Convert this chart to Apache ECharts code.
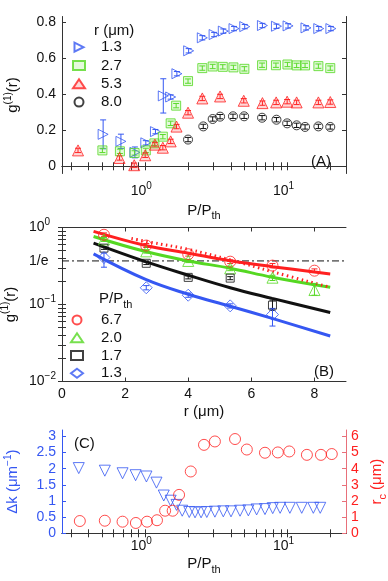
<!DOCTYPE html>
<html>
<head>
<meta charset="utf-8">
<script src="https://cdn.jsdelivr.net/npm/echarts@6/dist/echarts.min.js"></script>
<style>html,body{margin:0;padding:0;background:#fff}#chart{width:388px;height:581px}</style>
</head>
<body>
<div id="chart"></div>
<script>
// ---- panel (A): g1(r) against P/Pth, one series per distance r ----
const aX13 = [0.506, 0.675, 0.846, 1.01, 1.18, 1.34, 1.51, 1.67, 2.02, 2.52, 3.05, 3.54, 4.21, 5.01, 6.67, 8.37, 10.1, 13.5, 16.6, 20.2];
const aY13 = [0.177, 0.138, 0.077, 0.13, 0.192, 0.39, 0.384, 0.513, 0.64, 0.712, 0.73, 0.749, 0.763, 0.774, 0.78, 0.776, 0.778, 0.767, 0.763, 0.763];
const aE13 = [0.08, 0.04, 0.03, 0.012, 0.012, 0.095, 0.012, 0.012, 0.012, 0.012, 0.012, 0.012, 0.012, 0.012, 0.012, 0.012, 0.012, 0.012, 0.012, 0.012];
const aX27 = [0.50, 0.664, 0.842, 1.01, 1.16, 1.33, 1.51, 1.65, 2.0, 2.52, 2.98, 3.51, 4.17, 4.98, 6.63, 8.3, 10.0, 11.6, 13.3, 16.5, 20];
const aY27 = [0.088, 0.083, 0.074, 0.088, 0.127, 0.164, 0.238, 0.336, 0.472, 0.544, 0.553, 0.551, 0.548, 0.54, 0.56, 0.56, 0.564, 0.559, 0.559, 0.555, 0.544];
const aX53 = [0.337, 0.66, 0.837, 1.0, 1.17, 1.33, 1.51, 1.66, 2.0, 2.52, 3.36, 4.93, 6.67, 8.33, 9.95, 11.6, 16.5, 20];
const aY53 = [0.088, 0.046, 0.006, 0.061, 0.12, 0.103, 0.138, 0.22, 0.297, 0.376, 0.387, 0.363, 0.35, 0.354, 0.358, 0.354, 0.354, 0.356];
const aX80 = [2.0, 2.56, 2.98, 3.36, 4.14, 4.96, 6.63, 8.37, 9.95, 11.6, 13.3, 16.5, 20];
const aY80 = [0.148, 0.221, 0.262, 0.275, 0.277, 0.277, 0.269, 0.258, 0.238, 0.227, 0.218, 0.221, 0.218];
const aSmallErr = 0.012;

// ---- panel (B): g1(r) against r, one series per P/Pth ----
const bR = [1.33, 2.67, 4.0, 5.33, 6.67, 8.0];
const bY67 = [0.805, 0.583, 0.45, 0.36, 0.32, 0.275];
const bLo67 = [0.76, 0.55, 0.425, 0.34, 0.30, 0.26];
const bHi67 = [0.85, 0.62, 0.475, 0.38, 0.34, 0.29];
const bY20 = [0.70, 0.49, 0.368, 0.295, 0.223, 0.154];
const bLo20 = [0.66, 0.465, 0.35, 0.275, 0.205, 0.132];
const bHi20 = [0.74, 0.515, 0.385, 0.315, 0.24, 0.188];
const bR17 = [1.33, 2.67, 4.0, 5.33, 6.67];
const bY17 = [0.54, 0.343, 0.225, 0.22, 0.098];
const bLo17 = [0.52, 0.33, 0.215, 0.21, 0.084];
const bHi17 = [0.56, 0.355, 0.235, 0.23, 0.114];
const bR13 = [1.33, 2.67, 4.0, 5.33, 6.67];
const bY13 = [0.407, 0.165, 0.132, 0.096, 0.074];
const bLo13 = [0.305, 0.155, 0.124, 0.09, 0.0525];
const bHi13 = [0.465, 0.176, 0.141, 0.102, 0.089];
// fitted curves
const fitR = [1.0, 2.65, 4.0, 5.33, 6.66, 8.5];
const fit67 = [0.89, 0.583, 0.464, 0.37, 0.31, 0.249];
const fit20 = [0.765, 0.487, 0.368, 0.296, 0.226, 0.167];
const fit17 = [0.627, 0.36, 0.24, 0.165, 0.12, 0.0786];
const fit13 = [0.455, 0.212, 0.136, 0.095, 0.066, 0.039];
const dotR = [2.2, 2.78, 4.0, 5.33, 6.66, 8.5];
const dot67 = [0.72, 0.646, 0.52, 0.38, 0.267, 0.167];
const oneOverE = [[0, 0.368], [9, 0.368]];

// ---- panel (C): dk and rc against P/Pth ----
const cXdk = [0.341, 0.52, 0.693, 0.856, 1.02, 1.20, 1.35, 1.51, 1.66, 1.82, 2.04, 2.24, 2.47, 2.71, 3.09, 3.54, 4.01, 4.64, 5.31, 6.07, 6.95, 7.88, 8.88, 10.4, 12.6, 15.2, 17.0];
const cDk = [2.02, 1.94, 1.86, 1.80, 1.76, 1.57, 1.17, 1.01, 0.88, 0.70, 0.66, 0.65, 0.65, 0.66, 0.67, 0.68, 0.68, 0.70, 0.71, 0.74, 0.75, 0.78, 0.79, 0.79, 0.79, 0.79, 0.79];
const cXrc = [0.347, 0.52, 0.693, 0.86, 1.03, 1.21, 1.38, 1.56, 1.73, 2.09, 2.59, 3.09, 4.28, 5.18, 6.95, 8.56, 10.3, 13.7, 17.2, 20.5];
const cRc = [0.76, 0.78, 0.72, 0.64, 0.72, 0.81, 1.40, 1.40, 2.38, 3.83, 5.48, 5.69, 5.84, 5.19, 4.99, 5.01, 5.07, 4.86, 4.86, 4.91];

// tick positions
const logTicks = [0.3, 0.4, 0.5, 0.6, 0.7, 0.8, 0.9, 1, 2, 3, 4, 5, 6, 7, 8, 9, 10, 20];
const logLabels = [1, 10];
const aYTicks = [0, 0.2, 0.4, 0.6, 0.8];
const bXTicks = [0, 2, 4, 6, 8];
const bYTicks = [0.01, 0.02, 0.03, 0.04, 0.05, 0.06, 0.07, 0.08, 0.09, 0.1, 0.2, 0.3, 0.4, 0.5, 0.6, 0.7, 0.8, 0.9, 1];
const bYLabels = [0.01, 0.1, 0.368, 1];
const cLeftTicks = [0, 0.5, 1, 1.5, 2, 2.5, 3];
const cRightTicks = [0, 1, 2, 3, 4, 5, 6];

const FONT = 'Liberation Sans';
const BLUE = '#3557f2';
const GREEN = '#55d822';
const RED = '#ff2020';
const BLACK = '#111';
const FRAME = '#333';
const triRight = 'path://M0,0L10,5L0,10Z';
const triDown = 'path://M0,0L10,0L5,10Z';

const zip = (xs, ys) => xs.map((x, i) => [x, ys[i]]);
const sup = { fontSize: 10, verticalAlign: 'top', lineHeight: 20, fontFamily: FONT };
const sub = { fontSize: 11, verticalAlign: 'bottom', lineHeight: 22, fontFamily: FONT };

function powLabel(v) {
    const p = Math.round(Math.log10(v));
    return '10{sup|' + (p < 0 ? '\u2212' + (-p) : p) + '}';
}

function errSeries(points, color, xi, yi) {
    return {
        type: 'custom', xAxisIndex: xi, yAxisIndex: yi, data: points, silent: true, z: 3,
        encode: { x: 0, y: [1, 2] },
        renderItem: function (params, api) {
            const lo = api.coord([api.value(0), api.value(1)]);
            const hi = api.coord([api.value(0), api.value(2)]);
            const w = 3;
            const st = { stroke: color, lineWidth: 1 };
            return {
                type: 'group', children: [
                    { type: 'line', shape: { x1: lo[0], y1: lo[1], x2: hi[0], y2: hi[1] }, style: st },
                    { type: 'line', shape: { x1: lo[0] - w, y1: lo[1], x2: lo[0] + w, y2: lo[1] }, style: st },
                    { type: 'line', shape: { x1: hi[0] - w, y1: hi[1], x2: hi[0] + w, y2: hi[1] }, style: st }
                ]
            };
        }
    };
}
const symErr = (xs, ys, es) => xs.map((x, i) => [x, ys[i] - es[i], ys[i] + es[i]]);
const constErr = (xs, ys, e) => xs.map((x, i) => [x, ys[i] - e, ys[i] + e]);
const rangeErr = (xs, lo, hi) => xs.map((x, i) => [x, lo[i], hi[i]]);

function scatter(name, xs, ys, symbol, size, color, fill, xi, yi) {
    return {
        name: name, type: 'scatter', xAxisIndex: xi, yAxisIndex: yi,
        data: zip(xs, ys), symbol: symbol, symbolSize: size, z: 4,
        itemStyle: { color: fill, borderColor: color, borderWidth: 1 }
    };
}
function fitLine(name, xs, ys, color, type, width) {
    return {
        name: name, type: 'line', xAxisIndex: 2, yAxisIndex: 2, data: zip(xs, ys),
        smooth: 0.4, symbol: 'none', z: 2,
        lineStyle: { color: color, width: width, type: type }
    };
}

const tickStyle = (color) => ({ show: true, inside: true, length: 4, lineStyle: { color: color || FRAME, width: 1 } });
const lineStyle = (color) => ({ show: true, lineStyle: { color: color || FRAME, width: 1 } });
const labelBase = { fontFamily: FONT, fontSize: 14, color: '#111', rich: { sup: sup } };

function logX(grid, pos, showLabel, margin, nameGap) {
    return {
        type: 'log', logBase: 10, gridIndex: grid, position: pos, min: 0.26, max: 25.8,
        axisLine: lineStyle(), splitLine: { show: false },
        axisTick: Object.assign(tickStyle(), { customValues: logTicks }),
        axisLabel: Object.assign({}, labelBase, {
            show: showLabel, customValues: logLabels, margin: margin, formatter: powLabel,
            padding: [0, 8, 0, 0]
        }),
        name: showLabel ? 'P/P{sub|th}' : '', nameLocation: 'middle', nameGap: nameGap,
        nameTextStyle: { fontFamily: FONT, fontSize: 15, color: '#111', rich: { sub: sub } }
    };
}

const option = {
    animation: false,
    backgroundColor: '#fff',
    textStyle: { fontFamily: FONT },
    grid: [
        { left: 62, top: 16.5, width: 284, height: 157, outerBoundsMode: 'none', containLabel: false },
        { left: 62, top: 227.5, width: 284, height: 154, outerBoundsMode: 'none', containLabel: false },
        { left: 62, top: 430, width: 284, height: 103.3, outerBoundsMode: 'none', containLabel: false }
    ],
    title: [
        { text: 'r (\u03bcm)', left: 94, top: 23, padding: 0, textStyle: { fontFamily: FONT, fontSize: 15, fontWeight: 'normal', color: '#111' } },
        { text: '(A)', left: 311, top: 154, padding: 0, textStyle: { fontFamily: FONT, fontSize: 15, fontWeight: 'normal', color: '#111' } },
        { text: 'P/P{sub|th}', left: 99, top: 288, padding: 0, textStyle: { fontFamily: FONT, fontSize: 15, fontWeight: 'normal', color: '#111', rich: { sub: sub } } },
        { text: '(B)', left: 314, top: 364, padding: 0, textStyle: { fontFamily: FONT, fontSize: 15, fontWeight: 'normal', color: '#111' } },
        { text: '(C)', left: 74, top: 436, padding: 0, textStyle: { fontFamily: FONT, fontSize: 15, fontWeight: 'normal', color: '#111' } }
    ],
    legend: [
        {
            data: ['A 1.3', 'A 2.7', 'A 5.3', 'A 8.0'], orient: 'vertical', left: 72, top: 38,
            padding: 0, itemGap: 0, itemWidth: 12, itemHeight: 9, selectedMode: false,
            formatter: (n) => n.split(' ')[1],
            textStyle: { fontFamily: FONT, fontSize: 15, color: '#111', lineHeight: 18.3, padding: [0, 0, 0, 11] }
        },
        {
            data: ['B 6.7', 'B 2.0', 'B 1.7', 'B 1.3'], orient: 'vertical', left: 70, top: 311,
            padding: 0, itemGap: 0, itemWidth: 12, itemHeight: 9, selectedMode: false,
            formatter: (n) => n.split(' ')[1],
            textStyle: { fontFamily: FONT, fontSize: 15, color: '#111', lineHeight: 17.8, padding: [0, 0, 0, 13] }
        }
    ],
    xAxis: [
        logX(0, 'bottom', true, 8, 26),
        logX(0, 'top', false, 8, 26),
        {
            type: 'value', gridIndex: 1, position: 'bottom', min: 0, max: 9,
            axisLine: lineStyle(), splitLine: { show: false },
            axisTick: Object.assign(tickStyle(), { customValues: bXTicks }),
            axisLabel: Object.assign({}, labelBase, { customValues: bXTicks, margin: 6 }),
            name: 'r (\u03bcm)', nameLocation: 'middle', nameGap: 23,
            nameTextStyle: { fontFamily: FONT, fontSize: 15, color: '#111' }
        },
        {
            type: 'value', gridIndex: 1, position: 'top', min: 0, max: 9,
            axisLine: lineStyle(), splitLine: { show: false },
            axisTick: Object.assign(tickStyle(), { customValues: bXTicks }),
            axisLabel: { show: false }
        },
        logX(2, 'bottom', true, 3, 20),
        logX(2, 'top', false, 3, 20)
    ],
    yAxis: [
        {
            type: 'value', gridIndex: 0, position: 'left', min: -0.04, max: 0.83,
            axisLine: lineStyle(), splitLine: { show: false },
            axisTick: Object.assign(tickStyle(), { customValues: aYTicks }),
            axisLabel: Object.assign({}, labelBase, { customValues: aYTicks, margin: 6 }),
            name: 'g{sup|(1)}(r)', nameLocation: 'middle', nameRotate: 90, nameGap: 39,
            nameTextStyle: { fontFamily: FONT, fontSize: 15, color: '#111', rich: { sup: sup } }
        },
        {
            type: 'value', gridIndex: 0, position: 'right', min: -0.04, max: 0.83,
            axisLine: lineStyle(), splitLine: { show: false },
            axisTick: Object.assign(tickStyle(), { customValues: aYTicks }),
            axisLabel: { show: false }
        },
        {
            type: 'log', logBase: 10, gridIndex: 1, position: 'left', min: 0.01, max: 1,
            axisLine: lineStyle(), splitLine: { show: false },
            axisTick: Object.assign(tickStyle(), { customValues: bYTicks }),
            axisLabel: Object.assign({}, labelBase, {
                customValues: bYLabels, margin: 33, align: 'left',
                formatter: (v) => Math.abs(v - 0.368) < 0.01 ? '1/e' : powLabel(v)
            }),
            name: 'g{sup|(1)}(r)', nameLocation: 'middle', nameRotate: 90, nameGap: 39,
            nameTextStyle: { fontFamily: FONT, fontSize: 15, color: '#111', rich: { sup: sup } }
        },
        {
            type: 'log', logBase: 10, gridIndex: 1, position: 'right', min: 0.01, max: 1,
            axisLine: lineStyle(), splitLine: { show: false },
            axisTick: Object.assign(tickStyle(), { customValues: bYTicks }),
            axisLabel: { show: false }
        },
        {
            type: 'value', gridIndex: 2, position: 'left', min: 0, max: 3.2,
            axisLine: lineStyle(BLUE), splitLine: { show: false },
            axisTick: Object.assign(tickStyle(BLUE), { customValues: cLeftTicks }),
            axisLabel: Object.assign({}, labelBase, { customValues: cLeftTicks, margin: 6, color: BLUE }),
            name: '\u0394k (\u03bcm{sup|\u22121})', nameLocation: 'middle', nameRotate: 90, nameGap: 39,
            nameTextStyle: { fontFamily: FONT, fontSize: 15, color: BLUE, rich: { sup: Object.assign({}, sup, { color: BLUE }) } }
        },
        {
            type: 'value', gridIndex: 2, position: 'right', min: 0, max: 6.4,
            axisLine: lineStyle('#e8707a'), splitLine: { show: false },
            axisTick: Object.assign(tickStyle('#e8707a'), { customValues: cRightTicks }),
            axisLabel: Object.assign({}, labelBase, { customValues: cRightTicks, margin: 5, color: RED }),
            name: 'r{sub|c} (\u03bcm)', nameLocation: 'middle', nameRotate: 90, nameGap: 20,
            nameTextStyle: { fontFamily: FONT, fontSize: 15, color: RED, rich: { sub: Object.assign({}, sub, { color: RED }) } }
        }
    ],
    series: [
        // (A)
        errSeries(symErr(aX13, aY13, aE13), BLUE, 0, 0),
        errSeries(constErr(aX27, aY27, aSmallErr), GREEN, 0, 0),
        errSeries(constErr(aX53, aY53, aSmallErr), RED, 0, 0),
        errSeries(constErr(aX80, aY80, aSmallErr), BLACK, 0, 0),
        scatter('A 1.3', aX13, aY13, triRight, 10, BLUE, 'rgba(255,255,255,0)', 0, 0),
        scatter('A 2.7', aX27, aY27, 'rect', 9, GREEN, 'rgba(120,230,80,0.25)', 0, 0),
        scatter('A 5.3', aX53, aY53, 'triangle', 11, RED, 'rgba(255,60,60,0.25)', 0, 0),
        scatter('A 8.0', aX80, aY80, 'circle', 9, BLACK, 'rgba(255,255,255,0)', 0, 0),
        // (B)
        {
            name: '1/e', type: 'line', xAxisIndex: 2, yAxisIndex: 2, data: oneOverE, symbol: 'none', z: 1,
            lineStyle: { color: '#111', width: 1, type: [7, 3, 2, 3] }
        },
        fitLine('fit 6.7', fitR, fit67, RED, 'solid', 3),
        fitLine('fit 2.0', fitR, fit20, GREEN, 'solid', 3),
        fitLine('fit 1.7', fitR, fit17, BLACK, 'solid', 3),
        fitLine('fit 1.3', fitR, fit13, BLUE, 'solid', 3),
        fitLine('dot 6.7', dotR, dot67, RED, [1.5, 3.5], 3),
        errSeries(rangeErr(bR, bLo67, bHi67), RED, 2, 2),
        errSeries(rangeErr(bR, bLo20, bHi20), GREEN, 2, 2),
        errSeries(rangeErr(bR17, bLo17, bHi17), BLACK, 2, 2),
        errSeries(rangeErr(bR13, bLo13, bHi13), BLUE, 2, 2),
        scatter('B 6.7', bR, bY67, 'circle', 11, RED, 'rgba(255,255,255,0)', 2, 2),
        scatter('B 2.0', bR, bY20, 'triangle', 11, GREEN, 'rgba(255,255,255,0)', 2, 2),
        scatter('B 1.7', bR17, bY17, 'rect', 8, BLACK, 'rgba(255,255,255,0)', 2, 2),
        scatter('B 1.3', bR13, bY13, 'diamond', 12, BLUE, 'rgba(255,255,255,0)', 2, 2),
        // (C)
        scatter('C dk', cXdk, cDk, triDown, 11, BLUE, 'rgba(255,255,255,0)', 4, 4),
        scatter('C rc', cXrc, cRc, 'circle', 11, RED, 'rgba(255,255,255,0)', 4, 5)
    ]
};

const chart = echarts.init(document.getElementById('chart'), null, { renderer: 'canvas' });
chart.setOption(option);
</script>
</body>
</html>
